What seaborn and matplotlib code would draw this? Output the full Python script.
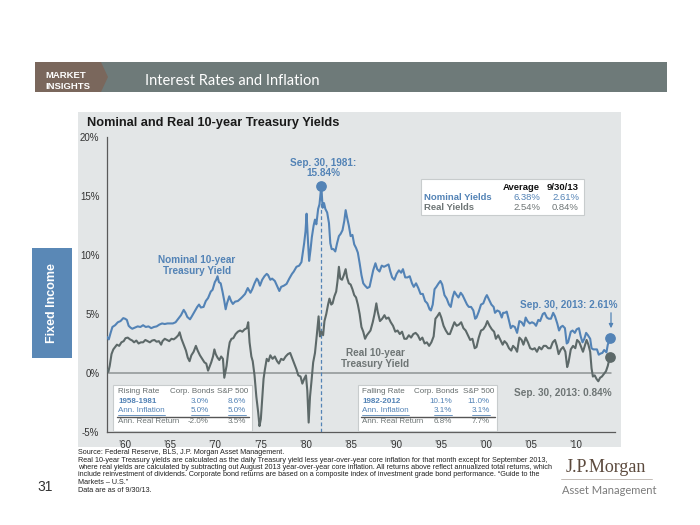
import matplotlib
matplotlib.use("Agg")
import matplotlib.pyplot as plt
import seaborn as sns
import pandas as pd
from matplotlib.patches import Rectangle, Polygon
from matplotlib.lines import Line2D

# ---------------- data ----------------
nominal_years = [
    1958.0, 1958.2, 1958.4, 1958.6, 1958.9, 1959.2, 1959.5, 1959.8, 1960.0, 1960.2,
    1960.4, 1960.6, 1960.8, 1961.1, 1961.4, 1961.7, 1962.0, 1962.3, 1962.6, 1962.9,
    1963.2, 1963.5, 1963.8, 1964.1, 1964.4, 1964.7, 1965.0, 1965.3, 1965.6, 1965.9,
    1966.2, 1966.5, 1966.7, 1966.9, 1967.2, 1967.4, 1967.7, 1968.0, 1968.2, 1968.4,
    1968.7, 1968.95, 1969.2, 1969.5, 1969.7, 1969.95, 1970.1, 1970.25, 1970.4, 1970.6,
    1970.8, 1971.0, 1971.15, 1971.3, 1971.55, 1971.75, 1971.95, 1972.2, 1972.5, 1972.8,
    1973.0, 1973.3, 1973.6, 1973.9, 1974.1, 1974.35, 1974.6, 1974.75, 1974.95, 1975.2,
    1975.45, 1975.7, 1975.85, 1976.1, 1976.3, 1976.6, 1976.9, 1977.1, 1977.3, 1977.6,
    1977.9, 1978.2, 1978.5, 1978.7, 1979.0, 1979.3, 1979.55, 1979.75, 1979.85, 1980.0,
    1980.12, 1980.25, 1980.4, 1980.55, 1980.7, 1980.9, 1981.05, 1981.2, 1981.4, 1981.55,
    1981.75, 1981.9, 1982.05, 1982.2, 1982.4, 1982.6, 1982.75, 1982.9, 1983.1, 1983.3,
    1983.5, 1983.7, 1983.9, 1984.1, 1984.3, 1984.45, 1984.6, 1984.8, 1985.0, 1985.2,
    1985.4, 1985.6, 1985.8, 1986.0, 1986.2, 1986.4, 1986.6, 1986.85, 1987.1, 1987.3,
    1987.5, 1987.75, 1987.95, 1988.2, 1988.45, 1988.7, 1988.95, 1989.2, 1989.4, 1989.6,
    1989.85, 1990.1, 1990.35, 1990.6, 1990.8, 1991.05, 1991.3, 1991.55, 1991.8, 1992.0,
    1992.25, 1992.5, 1992.75, 1993.0, 1993.25, 1993.5, 1993.75, 1993.9, 1994.1, 1994.3,
    1994.5, 1994.75, 1994.95, 1995.15, 1995.4, 1995.65, 1995.9, 1996.1, 1996.3, 1996.5,
    1996.75, 1996.95, 1997.2, 1997.4, 1997.65, 1997.9, 1998.1, 1998.35, 1998.6, 1998.8,
    1998.95, 1999.2, 1999.45, 1999.7, 1999.95, 2000.1, 2000.35, 2000.6, 2000.85, 2001.0,
    2001.25, 2001.5, 2001.75, 2001.9, 2002.1, 2002.3, 2002.5, 2002.75, 2002.95, 2003.2,
    2003.45, 2003.7, 2003.95, 2004.2, 2004.4, 2004.6, 2004.85, 2005.1, 2005.35, 2005.55,
    2005.8, 2006.0, 2006.3, 2006.5, 2006.75, 2006.95, 2007.2, 2007.45, 2007.65, 2007.9,
    2008.1, 2008.3, 2008.5, 2008.75, 2008.95, 2009.1, 2009.4, 2009.6, 2009.85, 2010.05,
    2010.3, 2010.5, 2010.7, 2010.9, 2011.1, 2011.3, 2011.55, 2011.7, 2011.9, 2012.1,
    2012.3, 2012.5, 2012.7, 2012.9, 2013.1, 2013.35, 2013.5, 2013.65, 2013.75,
]
nominal_vals = [
    3.05, 2.85, 3.4, 3.9, 4.05, 4.3, 4.4, 4.65, 4.6, 4.5,
    4.0, 3.85, 3.75, 3.85, 3.95, 3.9, 4.05, 3.9, 3.95, 3.8,
    3.9, 3.95, 4.1, 4.2, 4.15, 4.2, 4.2, 4.2, 4.3, 4.6,
    4.9, 5.35, 5.1, 4.75, 4.55, 4.8, 5.2, 5.6, 5.8, 5.55,
    5.6, 6.1, 6.35, 6.9, 7.05, 7.7, 7.9, 8.2, 7.7, 7.6,
    6.9, 6.1, 5.4, 5.9, 6.5, 6.1, 5.85, 6.05, 6.1, 6.3,
    6.45, 6.7, 7.2, 6.8, 7.1, 7.6, 8.0, 7.85, 7.4, 7.9,
    8.2, 8.4, 8.3, 7.9, 8.0, 7.8, 7.3, 6.95, 7.3, 7.4,
    7.55, 8.0, 8.4, 8.6, 9.0, 9.1, 9.4, 10.5, 11.0, 12.0,
    13.5, 11.5, 9.5, 10.4, 11.5, 12.5, 13.0, 12.6, 13.9, 14.3,
    15.84, 14.0, 14.4, 13.9, 13.6, 12.7, 11.0, 10.5, 10.5, 10.3,
    11.0, 11.6, 11.8, 12.1, 12.9, 13.8, 13.2, 12.5, 11.6, 11.7,
    10.9, 10.6, 10.2, 9.3, 8.3, 7.6, 7.4, 7.2, 7.3, 8.0,
    8.7, 9.3, 8.8, 8.6, 9.1, 9.0, 9.1, 9.2, 8.6, 8.1,
    7.9, 8.4, 8.7, 8.5, 8.8, 8.1, 8.1, 8.2, 7.6, 7.3,
    7.6, 7.2, 6.7, 6.7, 6.1, 5.9, 5.4, 5.3, 5.8, 7.1,
    7.3, 7.6, 7.8, 7.5, 6.6, 6.3, 5.8, 5.6, 6.4, 6.9,
    6.6, 6.4, 6.8, 6.6, 6.2, 5.8, 5.6, 5.6, 5.3, 4.6,
    4.7, 5.2, 5.8, 5.9, 6.4, 6.6, 6.2, 5.8, 5.6, 5.1,
    5.3, 5.2, 4.7, 5.1, 5.1, 5.2, 4.6, 3.8, 4.0, 3.9,
    3.4, 4.4, 4.3, 4.0, 4.7, 4.4, 4.2, 4.3, 4.2, 4.0,
    4.5, 4.4, 5.0, 5.1, 4.7, 4.6, 4.6, 5.1, 4.8, 4.2,
    3.6, 3.9, 4.0, 3.8, 2.5, 2.6, 3.5, 3.6, 3.4, 3.7,
    3.8, 3.1, 2.6, 2.9, 3.4, 3.2, 2.9, 2.1, 2.0, 2.0,
    2.0, 1.55, 1.65, 1.7, 1.95, 1.75, 2.4, 2.7, 2.95,
]

real_years = [
    1958.0, 1958.15, 1958.3, 1958.5, 1958.7, 1958.9, 1959.1, 1959.35, 1959.6, 1959.85,
    1960.05, 1960.3, 1960.55, 1960.8, 1961.0, 1961.25, 1961.5, 1961.75, 1962.0, 1962.25,
    1962.5, 1962.75, 1963.0, 1963.25, 1963.5, 1963.75, 1964.0, 1964.15, 1964.4, 1964.65,
    1964.9, 1965.15, 1965.4, 1965.65, 1965.9, 1966.05, 1966.25, 1966.5, 1966.75, 1966.95,
    1967.15, 1967.35, 1967.6, 1967.85, 1968.05, 1968.3, 1968.55, 1968.8, 1969.0, 1969.2,
    1969.35, 1969.55, 1969.75, 1969.9, 1970.05, 1970.25, 1970.45, 1970.65, 1970.85, 1971.0,
    1971.1, 1971.25, 1971.45, 1971.6, 1971.8, 1972.0, 1972.25, 1972.5, 1972.75, 1973.0,
    1973.25, 1973.5, 1973.65, 1973.8, 1974.0, 1974.15, 1974.35, 1974.55, 1974.75, 1974.9,
    1975.05, 1975.2, 1975.35, 1975.5, 1975.7, 1975.9, 1976.1, 1976.35, 1976.6, 1976.85,
    1977.05, 1977.3, 1977.55, 1977.8, 1978.05, 1978.3, 1978.55, 1978.8, 1979.0, 1979.2,
    1979.45, 1979.65, 1979.85, 1980.05, 1980.2, 1980.35, 1980.5, 1980.65, 1980.85, 1981.05,
    1981.25, 1981.45, 1981.6, 1981.75, 1981.95, 1982.1, 1982.3, 1982.5, 1982.65, 1982.85,
    1983.0, 1983.2, 1983.4, 1983.55, 1983.7, 1983.85, 1984.05, 1984.25, 1984.45, 1984.6,
    1984.8, 1985.0, 1985.2, 1985.4, 1985.6, 1985.8, 1986.0, 1986.2, 1986.4, 1986.6,
    1986.8, 1987.0, 1987.2, 1987.45, 1987.65, 1987.85, 1988.0, 1988.25, 1988.5, 1988.75,
    1988.95, 1989.2, 1989.45, 1989.7, 1989.95, 1990.2, 1990.45, 1990.7, 1990.95, 1991.2,
    1991.45, 1991.7, 1991.95, 1992.2, 1992.45, 1992.7, 1992.95, 1993.2, 1993.45, 1993.7,
    1993.95, 1994.2, 1994.4, 1994.6, 1994.85, 1995.05, 1995.3, 1995.55, 1995.8, 1996.0,
    1996.25, 1996.5, 1996.75, 1997.0, 1997.25, 1997.5, 1997.75, 1998.0, 1998.25, 1998.5,
    1998.75, 1998.95, 1999.2, 1999.45, 1999.7, 1999.95, 2000.15, 2000.4, 2000.65, 2000.9,
    2001.1, 2001.35, 2001.6, 2001.85, 2002.05, 2002.3, 2002.55, 2002.8, 2003.0, 2003.25,
    2003.45, 2003.7, 2003.95, 2004.15, 2004.4, 2004.65, 2004.9, 2005.15, 2005.4, 2005.65,
    2005.9, 2006.15, 2006.4, 2006.65, 2006.9, 2007.15, 2007.4, 2007.65, 2007.85, 2008.05,
    2008.3, 2008.55, 2008.8, 2009.0, 2009.15, 2009.4, 2009.65, 2009.9, 2010.1, 2010.35,
    2010.55, 2010.75, 2010.95, 2011.15, 2011.35, 2011.55, 2011.7, 2011.85, 2012.05, 2012.25,
    2012.45, 2012.65, 2012.85, 2013.05, 2013.3, 2013.5, 2013.65, 2013.75,
]
real_vals = [
    0.3, 0.1, 0.6, 1.6, 2.0, 2.2, 2.4, 2.3, 2.6, 2.7,
    2.95, 3.0, 2.85, 2.75, 2.6, 2.75, 2.5, 2.6, 2.6, 2.8,
    2.7, 2.6, 2.75, 2.8, 2.65, 2.7, 2.4, 2.7, 2.9, 2.8,
    2.7, 2.9, 2.85, 3.0, 3.2, 3.45, 2.9, 2.4, 1.9, 1.3,
    1.0, 1.5, 1.8, 2.3, 1.9, 1.5, 1.2, 0.9, 0.8, 0.2,
    0.5, 0.9, 1.4, 2.0, 1.6, 1.3, 1.1, 1.4, 1.2, -0.4,
    0.0, 0.6, 1.9, 2.6, 2.9, 2.95, 3.3, 3.5, 3.6, 3.5,
    3.7, 3.8, 4.3, 2.6, 1.4, 1.0, -0.2, -2.0, -3.3, -4.5,
    -3.9, -2.2, -0.5, 0.3, 1.2, 1.0, 1.5, 1.2, 1.4, 1.0,
    0.8, 1.2, 1.1, 1.4, 1.6, 1.7, 1.2, 0.7, 0.3, -0.2,
    -0.3, -0.9, -0.5, -0.2, -1.5, -4.2, -2.0, -0.8, 0.9, 1.7,
    3.2, 4.8, 3.1, 3.5, 3.2, 4.4, 5.0, 5.8, 6.3, 5.8,
    5.9, 6.5, 6.9, 7.8, 9.0, 8.0, 7.9, 8.3, 8.8, 8.1,
    7.6, 7.5, 7.1, 6.6, 6.4, 5.8, 5.0, 3.9, 3.5, 2.9,
    3.2, 3.4, 3.6, 4.3, 5.0, 5.9, 5.2, 4.4, 4.6, 4.9,
    4.6, 4.7, 4.3, 4.0, 3.5, 3.6, 3.3, 3.5, 2.9, 2.9,
    3.2, 3.0, 3.3, 3.4, 3.2, 2.8, 3.0, 2.5, 2.6, 2.3,
    2.6, 3.1, 4.6, 4.8, 5.1, 4.7, 4.0, 3.6, 3.3, 3.3,
    3.8, 4.3, 4.0, 4.1, 4.3, 3.8, 3.6, 3.2, 2.8, 2.9,
    2.1, 2.2, 3.0, 3.6, 3.7, 4.0, 4.4, 4.0, 3.7, 3.5,
    2.9, 3.2, 2.8, 2.4, 2.7, 2.5, 2.1, 1.9, 2.3, 2.1,
    1.8, 3.0, 2.8, 2.4, 3.0, 2.6, 2.1, 2.0, 2.1, 1.8,
    2.2, 2.0, 2.3, 2.3, 2.1, 2.1, 2.6, 2.8, 2.3, 1.6,
    2.0, 2.2, 1.8, 0.5, 0.9, 2.0, 2.3, 2.1, 2.8, 2.6,
    2.2, 1.8, 2.3, 2.8, 2.4, 1.8, 0.4, -0.3, -0.2, -0.5,
    -0.7, -0.4, -0.3, -0.1, 0.15, 0.6, 1.1, 1.35,
]

xtick_years = [1960, 1965, 1970, 1975, 1980, 1985, 1990, 1995, 2000, 2005, 2010]
xtick_labels = ["\u201960", "\u201965", "\u201970", "\u201975", "\u201980", "\u201985",
                "\u201990", "\u201995", "\u201900", "\u201905", "\u201910"]
ytick_vals = [-5, 0, 5, 10, 15, 20]
ytick_labels = ["-5%", "0%", "5%", "10%", "15%", "20%"]

peak_year = 1981.75
peak_val = 15.84

avg_header = ["Average", "9/30/13"]
avg_rows = [("Nominal Yields", "6.38%", "2.61%"), ("Real Yields", "2.54%", "0.84%")]

rising_header = ("Rising Rate", "Corp. Bonds", "S&P 500")
rising_rows = [("1958-1981", "3.0%", "8.6%"), ("Ann. Inflation", "5.0%", "5.0%"),
               ("Ann. Real Return", "-2.0%", "3.5%")]
falling_header = ("Falling Rate", "Corp. Bonds", "S&P 500")
falling_rows = [("1982-2012", "10.1%", "11.0%"), ("Ann. Inflation", "3.1%", "3.1%"),
                ("Ann. Real Return", "6.8%", "7.7%")]

footnote_lines = [
    "Source: Federal Reserve, BLS, J.P. Morgan Asset Management.",
    "Real 10-year Treasury yields are calculated as the daily Treasury yield less year-over-year core inflation for that month except for September 2013,",
    "where real yields are calculated by subtracting out August 2013 year-over-year core inflation. All returns above reflect annualized total returns, which",
    "include reinvestment of dividends. Corporate bond returns are based on a composite index of investment grade bond performance. \u201cGuide to the",
    "Markets \u2013 U.S.\u201d",
    "Data are as of 9/30/13.",
]

# ---------------- style ----------------
sns.set_theme(style="white")
plt.rcParams["font.family"] = ["Liberation Sans", "DejaVu Sans"]

BLUE = "#5383b6"
GREY = "#5d6969"
TXTGREY = "#6e7575"

W, H = 700, 525
fig = plt.figure(figsize=(7, 5.25), dpi=100)
fig.patch.set_facecolor("white")


def fx(x):
    return x / W


def fy(y):
    return 1 - y / H


# header bar
fig.patches.append(Rectangle((fx(35), fy(92)), fx(667) - fx(35), fy(62) - fy(92),
                             transform=fig.transFigure, facecolor="#6e7a79", edgecolor="none"))
fig.patches.append(Polygon([(fx(35), fy(62)), (fx(101), fy(62)), (fx(108), fy(77)),
                            (fx(101), fy(92)), (fx(35), fy(92))], closed=True,
                           transform=fig.transFigure, facecolor="#7a675c", edgecolor="none"))
fig.text(fx(45), fy(76), "MARKET", color="white", fontsize=6.8, fontweight="bold",
         va="center", ha="left")
fig.text(fx(45), fy(86.5), "INSIGHTS", color="white", fontsize=6.8, fontweight="bold",
         va="center", ha="left")
fig.text(fx(145), fy(81), "Interest Rates and Inflation", color="white", fontsize=10.5,
         va="center", ha="left", family=["Lato", "DejaVu Sans"])

# chart panel background (behind the axes)
fig.patches.append(Rectangle((fx(78), fy(447)), fx(621) - fx(78), fy(112) - fy(447),
                             transform=fig.transFigure, facecolor="#e3e6e7", edgecolor="none",
                             zorder=-10))
fig.text(fx(87), fy(123), "Nominal and Real 10-year Treasury Yields", fontsize=9.2,
         fontweight="bold", color="#1a1a1a", va="center", ha="left")

# side tab
fig.patches.append(Rectangle((fx(32), fy(358)), fx(72) - fx(32), fy(248) - fy(358),
                             transform=fig.transFigure, facecolor="#5a88b6", edgecolor="none"))
fig.text(fx(52), fy(303), "Fixed Income", rotation=90, color="white", fontsize=9,
         fontweight="bold", va="center", ha="center")

# ---------------- axes ----------------
ax = fig.add_axes([fx(107), fy(432), fx(615) - fx(107), fy(137) - fy(432)])
ax.set_facecolor("none")
ax.set_zorder(2)

df_nom = pd.DataFrame({"year": nominal_years, "value": nominal_vals})
df_real = pd.DataFrame({"year": real_years, "value": real_vals})

ax.axhline(0, color="#8e9394", lw=1.1, zorder=1, xmax=0.992)
sns.lineplot(data=df_real, x="year", y="value", color=GREY, lw=1.5, ax=ax, zorder=3)
sns.lineplot(data=df_nom, x="year", y="value", color=BLUE, lw=1.5, ax=ax, zorder=4)

ax.plot([peak_year, peak_year], [-5, peak_val], color=BLUE, lw=0.9, ls=(0, (3, 2)), zorder=2)
ax.scatter([peak_year], [peak_val], s=45, color=BLUE, zorder=5)
ax.scatter([nominal_years[-1]], [nominal_vals[-1]], s=45, color=BLUE, zorder=5)
ax.scatter([real_years[-1]], [real_vals[-1]], s=45, color=GREY, zorder=5)

ax.set_xlim(1958.0, 2014.3)
ax.set_ylim(-5, 20)
ax.set_xticks(xtick_years)
ax.set_xticklabels(xtick_labels)
ax.set_yticks(ytick_vals)
ax.set_yticklabels(ytick_labels)
ax.set_xlabel("")
ax.set_ylabel("")
for s in ["top", "right"]:
    ax.spines[s].set_visible(False)
for s in ["left", "bottom"]:
    ax.spines[s].set_color("#5a5a5a")
    ax.spines[s].set_linewidth(0.9)
ax.tick_params(axis="both", direction="out", length=3.5, width=0.8, color="#5a5a5a",
               labelsize=7, labelcolor="#333333", pad=2)
ax.grid(False)

# annotations
fig.text(fx(323), fy(163), "Sep. 30, 1981:", color=BLUE, fontsize=7.2, fontweight="bold",
         ha="center", va="center")
fig.text(fx(323), fy(173.5), "15.84%", color=BLUE, fontsize=7.2, fontweight="bold",
         ha="center", va="center")
fig.text(fx(197), fy(260), "Nominal 10-year", color=BLUE, fontsize=7.2, fontweight="bold",
         ha="center", va="center")
fig.text(fx(197), fy(271), "Treasury Yield", color=BLUE, fontsize=7.2, fontweight="bold",
         ha="center", va="center")
fig.text(fx(375), fy(353), "Real 10-year", color=TXTGREY, fontsize=7.2, fontweight="bold",
         ha="center", va="center")
fig.text(fx(375), fy(364), "Treasury Yield", color=TXTGREY, fontsize=7.2, fontweight="bold",
         ha="center", va="center")
fig.text(fx(617), fy(305), "Sep. 30, 2013: 2.61%", color=BLUE, fontsize=7.2,
         fontweight="bold", ha="right", va="center")
fig.text(fx(612), fy(393), "Sep. 30, 2013: 0.84%", color=TXTGREY, fontsize=7.2,
         fontweight="bold", ha="right", va="center")
ax.annotate("", xy=(fx(611), fy(331)), xytext=(fx(611), fy(310)),
            xycoords="figure fraction", textcoords="figure fraction",
            arrowprops=dict(arrowstyle="-|>", color=BLUE, lw=0.9, mutation_scale=6))

# average box
fig.patches.append(Rectangle((fx(421), fy(215)), fx(584) - fx(421), fy(179) - fy(215),
                             transform=fig.transFigure, facecolor="white",
                             edgecolor="#c8cccd", lw=0.8, zorder=6))
TS = 6.8
fig.text(fx(540), fy(187), avg_header[0], fontsize=TS, fontweight="bold", color="#111111",
         ha="right", va="center", zorder=7)
fig.text(fx(579), fy(187), avg_header[1], fontsize=TS, fontweight="bold", color="#111111",
         ha="right", va="center", zorder=7)
for i, (lab, a, b) in enumerate(avg_rows):
    yy = 197.5 + i * 10.5
    col = BLUE if i == 0 else TXTGREY
    fig.text(fx(424), fy(yy), lab, fontsize=TS, fontweight="bold", color=col,
             ha="left", va="center", zorder=7)
    fig.text(fx(540), fy(yy), a, fontsize=TS, color=col, ha="right", va="center", zorder=7)
    fig.text(fx(579), fy(yy), b, fontsize=TS, color=col, ha="right", va="center", zorder=7)

TT = 5.8


def draw_table(x0, x1, header, rows, xlab, xc1, xc2, xv1, xv2):
    fig.patches.append(Rectangle((fx(x0), fy(431)), fx(x1) - fx(x0), fy(385) - fy(431),
                                 transform=fig.transFigure, facecolor="white",
                                 edgecolor="#c8cccd", lw=0.8, zorder=6))
    ty = [391.5, 401.5, 410.5, 421.5]
    fig.text(fx(xlab), fy(ty[0]), header[0], fontsize=TT, color="#666d6d",
             ha="left", va="center", zorder=7)
    fig.text(fx(xc1), fy(ty[0]), header[1], fontsize=TT, color="#666d6d",
             ha="right", va="center", zorder=7)
    fig.text(fx(xc2), fy(ty[0]), header[2], fontsize=TT, color="#666d6d",
             ha="right", va="center", zorder=7)
    under = []
    for i, (lab, a, b) in enumerate(rows):
        col = BLUE if i < 2 else TXTGREY
        fw = "bold" if i == 0 else "normal"
        t1 = fig.text(fx(xlab), fy(ty[i + 1]), lab, fontsize=TT, color=col, fontweight=fw,
                      ha="left", va="center", zorder=7)
        t2 = fig.text(fx(xv1), fy(ty[i + 1]), a, fontsize=TT, color=col,
                      ha="right", va="center", zorder=7)
        t3 = fig.text(fx(xv2), fy(ty[i + 1]), b, fontsize=TT, color=col,
                      ha="right", va="center", zorder=7)
        if i == 1:
            under.extend([t1, t2, t3])
    fig.lines.append(Line2D([fx(xlab - 1), fx(xc2 + 1)], [fy(416.5), fy(416.5)],
                            transform=fig.transFigure, color="#555555", lw=1.0, zorder=7))
    return under


underlined = []
underlined += draw_table(113, 252, rising_header, rising_rows, 118, 215, 248, 209, 246)
underlined += draw_table(358, 497, falling_header, falling_rows, 362, 458, 494, 452, 490)

fig.canvas.draw()
rend = fig.canvas.get_renderer()
for t in underlined:
    bb = t.get_window_extent(rend)
    y_u = fy(414.5)
    fig.lines.append(Line2D([bb.x0 / fig.bbox.width, bb.x1 / fig.bbox.width], [y_u, y_u],
                            transform=fig.transFigure, color=BLUE, lw=0.6, zorder=7))

# footnotes
for i, line in enumerate(footnote_lines):
    fig.text(fx(78), fy(452.5 + i * 7.5), line, fontsize=5.2, color="#222222",
             ha="left", va="center")

fig.text(fx(45), fy(487), "31", fontsize=10, color="#333333", ha="center", va="center")

# logo
fig.text(fx(606), fy(467), "J.P.Morgan", fontsize=13, color="#5c4a3d", ha="center",
         va="center", family=["Liberation Serif", "DejaVu Serif"])
fig.lines.append(Line2D([fx(561), fx(652)], [fy(479), fy(479)], transform=fig.transFigure,
                        color="#b9b1aa", lw=0.6))
fig.text(fx(562), fy(490), "Asset Management", fontsize=8, color="#7c7c7c", ha="left",
         va="center", family=["Lato", "DejaVu Sans"])

fig.savefig("out.png", dpi=100, facecolor="white")
